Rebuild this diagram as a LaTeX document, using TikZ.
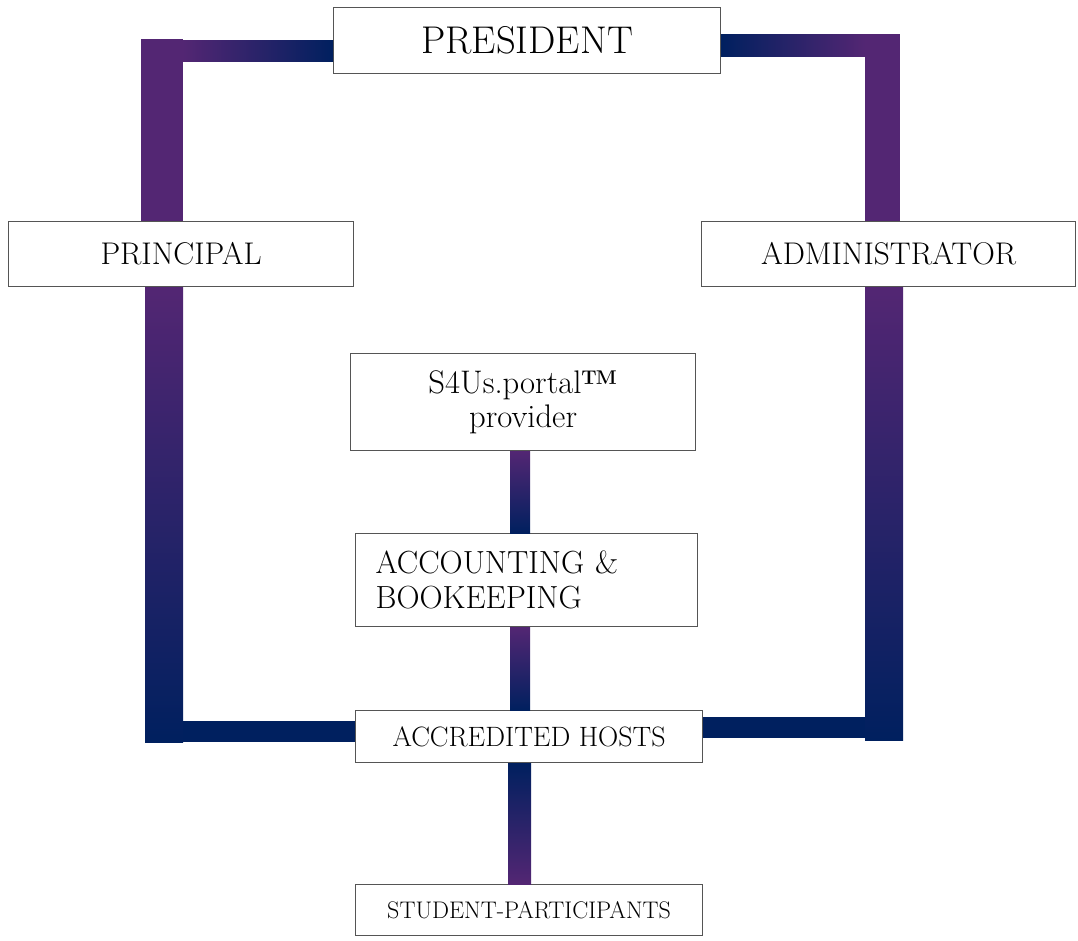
\documentclass[tikz,border=0pt]{standalone}
\definecolor{purp}{HTML}{532673}
\definecolor{navy}{HTML}{00205F}
\definecolor{edge}{HTML}{555555}
\begin{document}
\begin{tikzpicture}[x=0.75pt,y=-0.75pt,
  bx/.style 2 args={draw=edge, line width=0.9pt, fill=white, anchor=north west, inner sep=0pt,
     minimum width=#1*0.75pt, minimum height=#2*0.75pt, align=center}]
\useasboundingbox (0,0) rectangle (1078,940);
% boxes
\node[bx={387}{66}, font=\fontsize{29}{33}\selectfont] (pres) at (333,7) {PRESIDENT};
\node[bx={345}{65}, font=\fontsize{23.5}{27}\selectfont] (prin) at (8,221) {PRINCIPAL};
\node[bx={374}{65}, font=\fontsize{23.5}{27}\selectfont] (admin) at (701,221) {ADMINISTRATOR};
\node[bx={345}{97}, font=\fontsize{24.5}{26}\selectfont] (s4u) at (350,353) {S4Us.portal\textbf{\texttrademark}\\provider};
\node[bx={342}{93}, font=\fontsize{24}{26}\selectfont, align=left, inner xsep=15pt, text width=226.5pt] (acct) at (355,533) {ACCOUNTING \&\\BOOKEEPING};
\node[bx={347}{52}, font=\fontsize{21}{24}\selectfont] (hosts) at (355,710) {ACCREDITED HOSTS};
\node[bx={347}{51}, font=\fontsize{18}{21}\selectfont] (stud) at (355,884) {STUDENT-PARTICIPANTS};
% left connectors
\fill[purp] (141,39) rectangle (183,0 |- prin.north);
\shade[left color=purp, right color=navy] (183,40) rectangle (pres.west |- 0,61);
\shade[top color=purp, bottom color=navy] (145,0 |- prin.south) rectangle (183,742);
\fill[navy] (183,721) rectangle (hosts.west |- 0,742);
% right connectors
\shade[left color=navy, right color=purp] (pres.east |- 0,34) rectangle (865,56);
\fill[purp] (865,34) rectangle (900,0 |- admin.north);
\shade[top color=purp, bottom color=navy] (865,0 |- admin.south) rectangle (903,740);
\fill[navy] (hosts.east |- 0,717) rectangle (865,738);
% centre connectors
\shade[top color=purp, bottom color=navy] (510,0 |- s4u.south) rectangle (530,0 |- acct.north);
\shade[top color=purp, bottom color=navy] (510,0 |- acct.south) rectangle (530,0 |- hosts.north);
\shade[top color=navy, bottom color=purp] (508,0 |- hosts.south) rectangle (531,0 |- stud.north);
\end{tikzpicture}
\end{document}
